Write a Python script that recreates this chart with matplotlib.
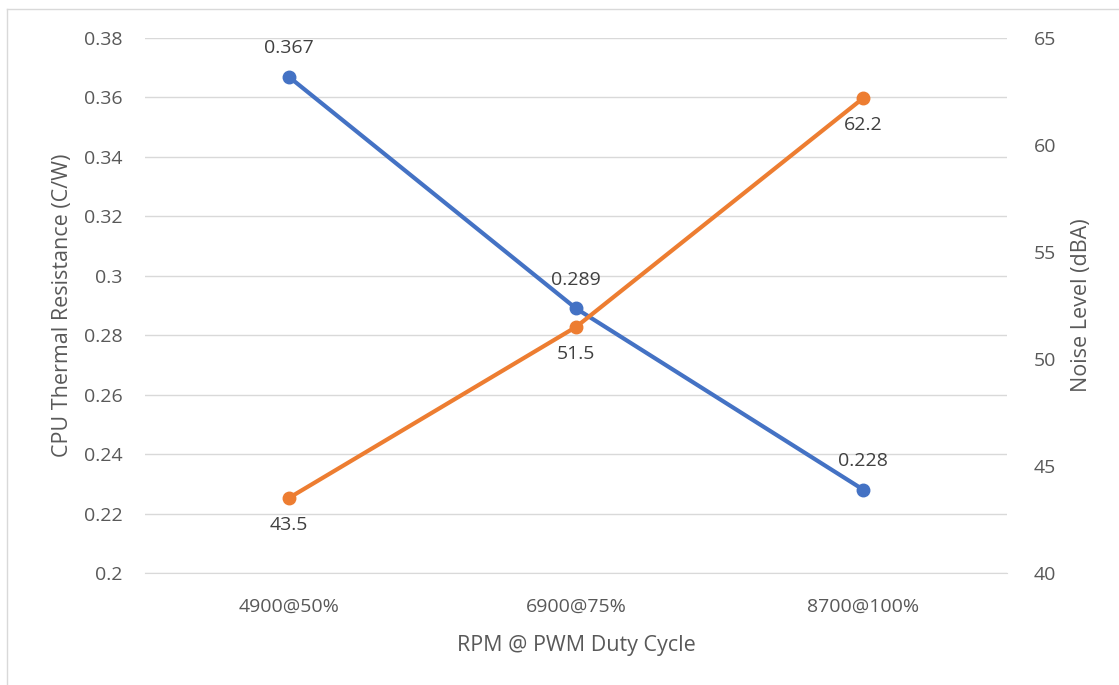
import matplotlib.pyplot as plt
from matplotlib.lines import Line2D

categories = ['4900@50%', '6900@75%', '8700@100%']
thermal_res = [0.367, 0.289, 0.228]
noise_dba = [43.5, 51.5, 62.2]
res_ticks = [0.2, 0.22, 0.24, 0.26, 0.28, 0.3, 0.32, 0.34, 0.36, 0.38]
res_labels = ['0.2', '0.22', '0.24', '0.26', '0.28', '0.3', '0.32', '0.34', '0.36', '0.38']
noise_ticks = [40, 45, 50, 55, 60, 65]

blue = '#4472C4'
orange = '#ED7D31'
grey = '#595959'

plt.rcParams['font.family'] = ['Open Sans', 'DejaVu Sans']

fig = plt.figure(figsize=(11.19, 6.85), dpi=100)
ax = fig.add_axes([0.1296, 0.1635, 0.7704, 0.781])
ax2 = ax.twinx()

x = range(len(categories))
ax.plot(x, thermal_res, color=blue, lw=3, marker='o', ms=9, zorder=3)
ax2.plot(x, noise_dba, color=orange, lw=3, marker='o', ms=9, zorder=3)

# data labels: blue above, orange below
for i, v in enumerate(thermal_res):
    ax.annotate(f'{v:g}', (i, v), xytext=(0, 14), textcoords='offset points',
                ha='center', va='bottom', fontsize=14, color='#404040')
for i, v in enumerate(noise_dba):
    ax2.annotate(f'{v:g}', (i, v), xytext=(0, -13), textcoords='offset points',
                 ha='center', va='top', fontsize=14, color='#404040')

ax.set_xlim(-0.5, 2.5)
ax.set_ylim(0.2, 0.38)
ax.set_yticks(res_ticks)
ax.set_yticklabels(res_labels)
ax2.set_ylim(40, 65)
ax2.set_yticks(noise_ticks)
ax.set_xticks(list(x))
ax.set_xticklabels(categories)

ax.grid(axis='y', color='#D9D9D9', lw=1)
ax.set_axisbelow(True)
for a in (ax, ax2):
    for s in a.spines.values():
        s.set_visible(False)
    a.tick_params(length=0, labelsize=14, colors=grey)
ax.tick_params(axis='y', pad=16)
ax.tick_params(axis='x', pad=18)
ax2.tick_params(axis='y', pad=19)
ax.spines['bottom'].set_visible(True)
ax.spines['bottom'].set_color('#D9D9D9')

ax.set_xlabel('RPM @ PWM Duty Cycle', fontsize=15.5, color=grey, labelpad=14)
ax.set_ylabel('CPU Thermal Resistance (C/W)', fontsize=15.5, color=grey, labelpad=8)
ax2.set_ylabel('Noise Level (dBA)', fontsize=15.5, color=grey, labelpad=11)

# chart frame (only left and top edges are in view)
fig.add_artist(Line2D([0.0065, 0.0065], [0, 0.987], transform=fig.transFigure, color='#D9D9D9', lw=1))
fig.add_artist(Line2D([0.0065, 1], [0.987, 0.987], transform=fig.transFigure, color='#D9D9D9', lw=1))

fig.savefig('out.png')
